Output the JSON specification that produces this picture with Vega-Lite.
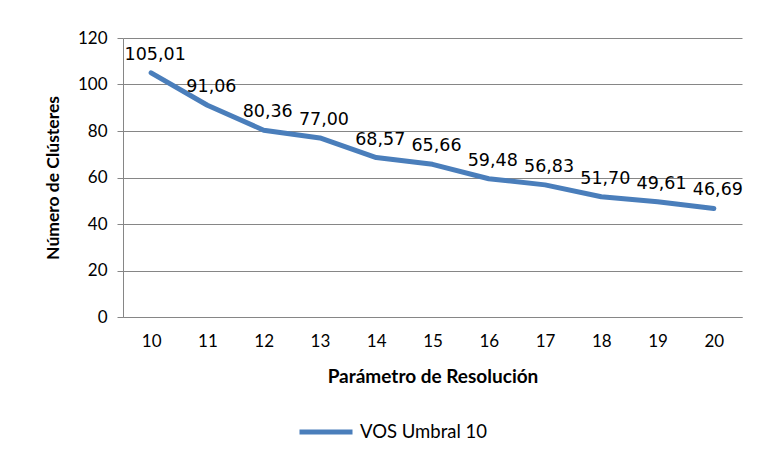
{
  "$schema": "https://vega.github.io/schema/vega-lite/v6.json",
  "width": 619,
  "height": 279,
  "autosize": {"type": "none"},
  "padding": {"left": 123, "top": 38, "right": 16, "bottom": 140},
  "background": "white",
  "config": {
    "locale": {"number": {"decimal": ",", "thousands": ".", "grouping": [3], "currency": ["", " €"]}},
    "view": {"stroke": null},
    "font": "Lato"
  },
  "data": {
    "values": [
      {"resolucion": "10", "clusters": 105.01, "serie": "VOS Umbral 10"},
      {"resolucion": "11", "clusters": 91.06, "serie": "VOS Umbral 10"},
      {"resolucion": "12", "clusters": 80.36, "serie": "VOS Umbral 10"},
      {"resolucion": "13", "clusters": 77.00, "serie": "VOS Umbral 10"},
      {"resolucion": "14", "clusters": 68.57, "serie": "VOS Umbral 10"},
      {"resolucion": "15", "clusters": 65.66, "serie": "VOS Umbral 10"},
      {"resolucion": "16", "clusters": 59.48, "serie": "VOS Umbral 10"},
      {"resolucion": "17", "clusters": 56.83, "serie": "VOS Umbral 10"},
      {"resolucion": "18", "clusters": 51.70, "serie": "VOS Umbral 10"},
      {"resolucion": "19", "clusters": 49.61, "serie": "VOS Umbral 10"},
      {"resolucion": "20", "clusters": 46.69, "serie": "VOS Umbral 10"}
    ]
  },
  "encoding": {
    "x": {
      "field": "resolucion",
      "type": "ordinal",
      "sort": null,
      "scale": {"type": "point", "padding": 0.5},
      "axis": {
        "title": "Parámetro de Resolución",
        "titleFont": "Lato",
        "titleFontWeight": "bold",
        "titleFontSize": 19,
        "titleColor": "black",
        "titlePadding": 18,
        "labelAngle": 0,
        "labelFont": "Lato",
        "labelFontSize": 17,
        "labelColor": "black",
        "labelPadding": 16,
        "ticks": false,
        "domainColor": "#868686",
        "domainWidth": 1,
        "grid": false
      }
    },
    "y": {
      "field": "clusters",
      "type": "quantitative",
      "scale": {"domain": [0, 120], "nice": false},
      "axis": {
        "values": [0, 20, 40, 60, 80, 100, 120],
        "title": "Número de Clústeres",
        "titleFont": "Lato",
        "titleFontWeight": "bold",
        "titleFontSize": 17.5,
        "titleColor": "black",
        "titlePadding": 15,
        "labelFont": "Lato",
        "labelFontSize": 17,
        "labelColor": "black",
        "labelPadding": 10,
        "tickSize": 6,
        "tickColor": "#868686",
        "domainColor": "#868686",
        "gridColor": "#868686",
        "gridWidth": 1,
        "gridOpacity": 1
      }
    }
  },
  "layer": [
    {
      "mark": {"type": "line", "strokeWidth": 5, "strokeCap": "round", "strokeJoin": "round"},
      "encoding": {
        "color": {
          "field": "serie",
          "type": "nominal",
          "scale": {"range": ["#4a7ebb"]},
          "legend": {
            "orient": "none",
            "legendX": 174,
            "legendY": 365,
            "direction": "horizontal",
            "title": null,
            "symbolType": "stroke",
            "symbolSize": 2809,
            "symbolStrokeWidth": 5,
            "labelFont": "Lato",
            "labelFontSize": 18.5,
            "labelColor": "black",
            "labelOffset": 5,
            "padding": 0
          }
        }
      }
    },
    {
      "mark": {"type": "text", "baseline": "alphabetic", "align": "center", "dx": 4, "dy": -13, "font": "DejaVu Sans", "fontSize": 17.5, "color": "black"},
      "encoding": {
        "text": {"field": "clusters", "type": "quantitative", "format": ".2f"}
      }
    }
  ]
}
